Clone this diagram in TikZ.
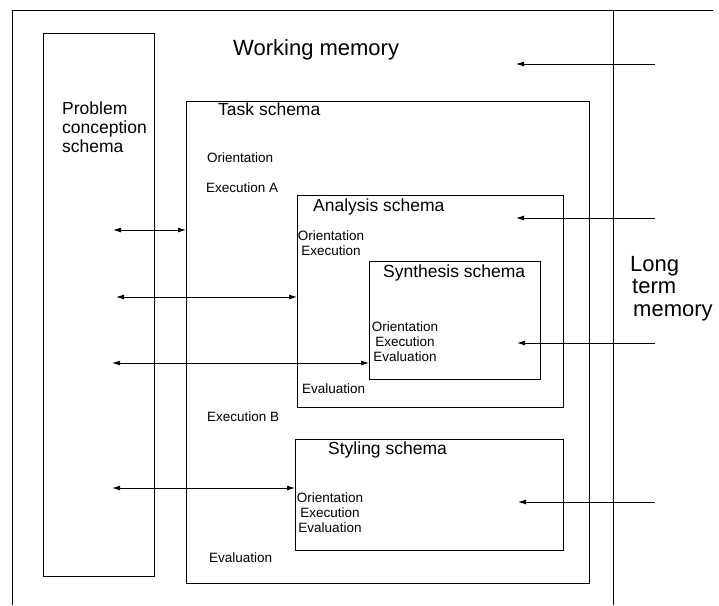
\documentclass[tikz,border=0pt]{standalone}
\usepackage{fontspec}
\setmainfont{Liberation Sans}
\usetikzlibrary{arrows.meta}
\begin{document}
\begin{tikzpicture}[x=1pt,y=-1pt,
  line/.style={draw=black,line width=0.9pt},
  box/.style={draw=black,line width=0.9pt,fill=none},
  conn/.style={line width=0.9pt,-{Latex[length=8pt,width=5pt]}},
  dconn/.style={line width=0.9pt,{Latex[length=8pt,width=5pt]}-{Latex[length=8pt,width=5pt]}},
  small/.style={inner sep=0pt,text=black,font=\fontsize{13.5}{15}\selectfont},
  title/.style={inner sep=0pt,text=black,font=\fontsize{17.5}{19.5}\selectfont},
  big/.style={inner sep=0pt,text=black,font=\fontsize{22}{22}\selectfont}]
\useasboundingbox (0,0) rectangle (719,605);
% outer frame
\coordinate (wmtl) at (12,10);
\coordinate (wmbl) at (12,605);
\coordinate (wmtr) at (713,10);
\coordinate (ltmt) at (613,10);
\coordinate (ltmb) at (613,605);
\draw[line] (wmbl) -- (wmtl) -- (wmtr);
\draw[line] (ltmt) -- (ltmb);
% boxes
\draw[box] (43,33) rectangle (154,576);
\draw[box] (186,101) rectangle (589,583);
\draw[box] (297,195) rectangle (563,407);
\draw[box] (369,261) rectangle (540,379);
\draw[box] (295,439) rectangle (563,550);
% named box edges
\coordinate (taskw) at (186,230);
\coordinate (anaw) at (297,297);
\coordinate (synw) at (369,363);
\coordinate (styw) at (295,488);
\coordinate (p1) at (113,230);
\coordinate (p2) at (116,297);
\coordinate (p3) at (112,363);
\coordinate (p4) at (112,488);
\draw[dconn] (p1) -- (taskw);
\draw[dconn] (p2) -- (anaw);
\draw[dconn] (p3) -- (synw);
\draw[dconn] (p4) -- (styw);
% long term memory arrows
\coordinate (l1) at (655,64);  \coordinate (t1) at (516,64);
\coordinate (l2) at (655,218); \coordinate (t2) at (516,218);
\coordinate (l3) at (655,343); \coordinate (t3) at (517,343);
\coordinate (l4) at (655,502); \coordinate (t4) at (518,502);
\draw[conn] (l1) -- (t1);
\draw[conn] (l2) -- (t2);
\draw[conn] (l3) -- (t3);
\draw[conn] (l4) -- (t4);
% texts
\node[big,anchor=base west] (wm) at (233,55) {Working memory};
\node[big,anchor=north west,align=left,font=\fontsize{22}{22.5}\selectfont] (ltm) at (630,256) {Long\\\hspace{2pt}term\\\hspace{3pt}memory};
\node[title,anchor=north west,align=left] (pcs) at (62,102) {Problem\\[-0.5pt]conception\\[-0.5pt]schema};
\node[title,anchor=base west] (tasks) at (218,115) {Task schema};
\node[small,anchor=base west] (to) at (207,162) {Orientation};
\node[small,anchor=base west] (tea) at (206,192) {Execution A};
\node[small,anchor=base west] (teb) at (207,421) {Execution B};
\node[small,anchor=base west] (tev) at (209,562) {Evaluation};
\node[title,anchor=base west] (anas) at (313,211) {Analysis schema};
\node[small,anchor=north,align=center] (anab) at (331,231) {Orientation\\Execution};
\node[small,anchor=base west] (anaev) at (302,393) {Evaluation};
\node[title,anchor=base west] (syns) at (383,277) {Synthesis schema};
\node[small,anchor=north,align=center] (synb) at (405,322) {Orientation\\Execution\\Evaluation};
\node[title,anchor=base west] (stys) at (328,454) {Styling schema};
\node[small,anchor=north,align=center] (styb) at (330,493) {Orientation\\Execution\\Evaluation};
\end{tikzpicture}
\end{document}
